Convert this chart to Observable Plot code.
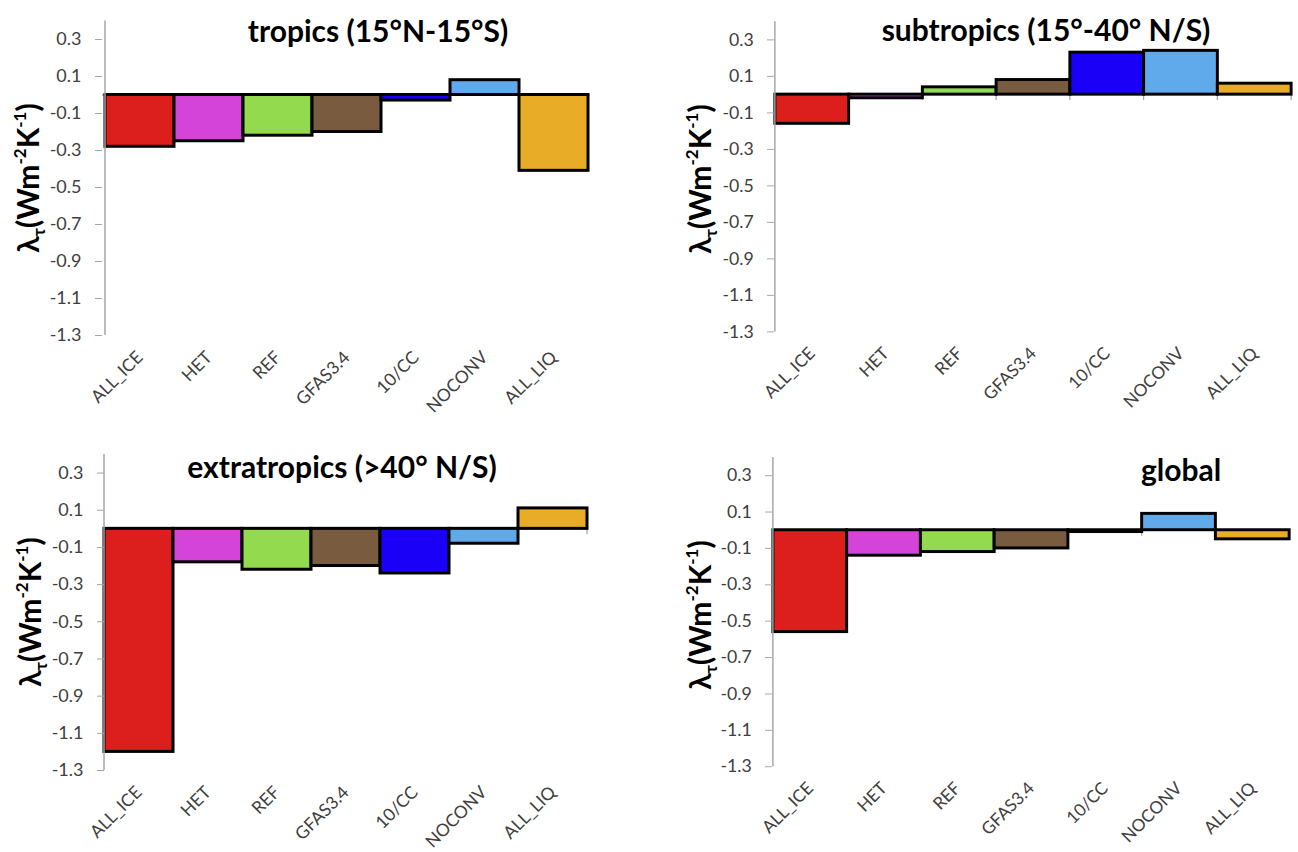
<!DOCTYPE html>
<html><head><meta charset="utf-8">
<script src="https://cdn.jsdelivr.net/npm/d3@7"></script>
<script src="https://cdn.jsdelivr.net/npm/@observablehq/plot@0.6"></script>
<style>
html,body{margin:0;padding:0;background:#fff;overflow:hidden;width:1298px;height:852px;}
#root{position:relative;width:1298px;height:852px;overflow:hidden;font-family:Lato, sans-serif;}
.panel{position:absolute;}
.title{position:absolute;transform:translate(-50%,-50%);font-weight:bold;font-size:30px;white-space:nowrap;color:#000;line-height:1;}
.ylab{position:absolute;transform:translate(-50%,-50%) rotate(-90deg);font-weight:bold;font-size:30px;white-space:nowrap;color:#000;line-height:1;}
.ylab sub{font-size:17px;vertical-align:-6px;}
.ylab sup{font-size:17px;vertical-align:13px;}
</style></head><body><div id="root"></div>
<script>
const categories = ["ALL_ICE", "HET", "REF", "GFAS3.4", "10/CC", "NOCONV", "ALL_LIQ"];
const colors = ["#dc1f1c", "#d444d8", "#93da4f", "#795b40", "#1a00f6", "#60a9ea", "#e9ac27"];
const tropics = [-0.28, -0.25, -0.22, -0.20, -0.03, 0.08, -0.41];
const subtropics = [-0.16, -0.02, 0.04, 0.08, 0.23, 0.24, 0.06];
const extratropics = [-1.20, -0.18, -0.22, -0.20, -0.24, -0.08, 0.11];
const globalVals = [-0.56, -0.14, -0.12, -0.10, -0.01, 0.09, -0.05];
const yTicks = [0.3, 0.1, -0.1, -0.3, -0.5, -0.7, -0.9, -1.1, -1.3];
const yDomain = [-1.3, 0.4];
const titles = ["tropics (15°N-15°S)", "subtropics (15°-40° N/S)", "extratropics (>40° N/S)", "global"];
const yLabelHTML = "λ<sub>τ</sub>(Wm<sup>-2</sup>K<sup>-1</sup>)";

const layout = [
  {left: 0,   top: 0,   width: 649, height: 426, mL: 102, mR: 59, mT: 20.5, mB: 91, tx: 378,  ty: 30,  lx: 29},
  {left: 649, top: 0,   width: 660, height: 426, mL: 127, mR: 6.6, mT: 21.5, mB: 89, tx: 1046, ty: 29,  lx: 701},
  {left: 0,   top: 426, width: 649, height: 426, mL: 104, mR: 62, mT: 28,   mB: 82, tx: 342,  ty: 466, lx: 31},
  {left: 649, top: 426, width: 660, height: 426, mL: 125, mR: 8,  mT: 31.5, mB: 80, tx: 1181, ty: 469, lx: 701}
];
const seriesList = [tropics, subtropics, extratropics, globalVals];

const svgNS = "http://www.w3.org/2000/svg";
function addLine(g, x1, y1, x2, y2, stroke, w) {
  const l = document.createElementNS(svgNS, "line");
  l.setAttribute("x1", x1); l.setAttribute("y1", y1);
  l.setAttribute("x2", x2); l.setAttribute("y2", y2);
  l.setAttribute("stroke", stroke); l.setAttribute("stroke-width", w);
  g.appendChild(l);
}
function boundaryTicks(index, scales) {
  const g = document.createElementNS(svgNS, "g");
  const {x, y} = scales;
  const bw = x.bandwidth();
  const y0 = y(0);
  categories.forEach((c) => { const xb = x(c) + bw; addLine(g, xb, y0, xb, y0 + 6, "#a6a6a6", 1.3); });
  return g;
}
function axisLine(index, scales) {
  const g = document.createElementNS(svgNS, "g");
  const {x, y} = scales;
  const x0 = x(categories[0]);
  addLine(g, x0, y(yDomain[1]), x0, y(yDomain[0]), "#a6a6a6", 1.5);
  return g;
}

const root = document.getElementById("root");
layout.forEach((L, k) => {
  const data = categories.map((c, i) => ({cat: c, value: seriesList[k][i]}));
  const chart = Plot.plot({
    width: L.width, height: L.height,
    marginLeft: L.mL, marginRight: L.mR, marginTop: L.mT, marginBottom: L.mB,
    style: {fontFamily: "Lato, sans-serif", background: "transparent", overflow: "visible"},
    x: {domain: categories, padding: 0, label: null},
    y: {domain: yDomain, label: null},
    color: {domain: categories, range: colors},
    marks: [
      Plot.ruleY([0], {stroke: "#a6a6a6", strokeWidth: 1.5}),
      boundaryTicks,
      Plot.barY(data, {x: "cat", y: "value", fill: "cat", stroke: "#000", strokeWidth: 3}),
      axisLine,
      Plot.axisY(yTicks, {tickSize: 7, tickPadding: 14, stroke: "#a6a6a6", fill: "#404040", fontSize: 18, tickFormat: d => d.toFixed(1), label: null}),
      Plot.axisX({anchor: "bottom", tickSize: 0, tickPadding: 19, tickRotate: -45, fontSize: 17.5, fill: "#404040", label: null})
    ]
  });
  const div = document.createElement("div");
  div.className = "panel";
  div.style.left = L.left + "px"; div.style.top = L.top + "px";
  div.appendChild(chart);
  root.appendChild(div);

  const t = document.createElement("div");
  t.className = "title";
  t.textContent = titles[k];
  t.style.left = L.tx + "px"; t.style.top = L.ty + "px";
  root.appendChild(t);

  const yl = document.createElement("div");
  yl.className = "ylab";
  yl.innerHTML = yLabelHTML;
  yl.style.left = L.lx + "px";
  yl.style.top = (L.top + L.mT + (L.height - L.mT - L.mB) / 2) + "px";
  root.appendChild(yl);
});
</script>
</body></html>
